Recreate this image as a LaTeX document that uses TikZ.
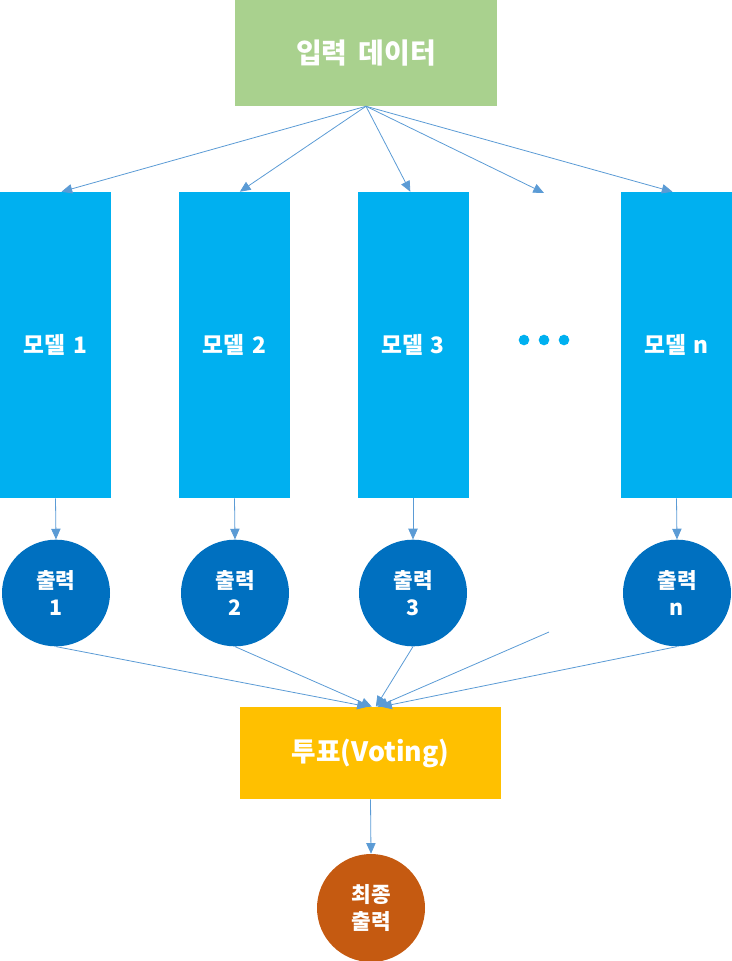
\documentclass[tikz,border=0pt]{standalone}
\usepackage{fontspec}
\setmainfont{Noto Sans CJK KR}
\usepackage{tikz}
\usetikzlibrary{arrows.meta,shapes.geometric}
\definecolor{ingreen}{RGB}{169, 209, 142}
\definecolor{modelblue}{RGB}{0, 176, 240}
\definecolor{outblue}{RGB}{0, 112, 192}
\definecolor{voteyellow}{RGB}{255, 192, 0}
\definecolor{finalorange}{RGB}{197, 90, 17}
\definecolor{linkblue}{RGB}{91, 155, 213}
\tikzset{
  inbox/.style={rectangle, fill=ingreen, minimum width=196.5pt, minimum height=79.5pt, text=white, font=\bfseries\fontsize{21}{25}\selectfont},
  modelbox/.style={rectangle, fill=modelblue, minimum width=83.25pt, minimum height=229.5pt, text=white, font=\bfseries\fontsize{17}{20}\selectfont},
  outcirc/.style={ellipse, fill=outblue, minimum width=81pt, minimum height=80pt, inner sep=0pt, text=white, align=center, font=\bfseries\fontsize{16}{20}\selectfont},
  votebox/.style={rectangle, fill=voteyellow, minimum width=195.75pt, minimum height=69pt, text=white, font=\bfseries\fontsize{20}{24}\selectfont},
  finalcirc/.style={circle, fill=finalorange, minimum size=81pt, inner sep=0pt, text=white, align=center, font=\bfseries\fontsize{16}{20}\selectfont},
  dotmark/.style={circle, fill=modelblue, minimum size=8pt, inner sep=0pt},
  link/.style={draw=linkblue, line width=0.6pt, -{Triangle[width=7pt, length=8pt]}}
}
\begin{document}
\begin{tikzpicture}[x=0.75pt, y=-0.75pt]
  \useasboundingbox (0,0) rectangle (732,961);
  % input
  \node[inbox] (input) at (366,53) {입력\hspace{0.4em}데이터};
  % models
  \node[modelbox] (m1) at (55.5,345) {모델\hspace{0.35em}1};
  \node[modelbox] (m2) at (234.5,345) {모델\hspace{0.35em}2};
  \node[modelbox] (m3) at (413,345) {모델\hspace{0.35em}3};
  \node[modelbox] (mn) at (676.5,345) {모델\hspace{0.35em}n};
  \foreach \i/\x in {1/524, 2/544, 3/564}
    \node[dotmark] (dot\i) at (\x,340) {};
  \coordinate (dotstop) at (544,193);
  % outputs
  \node[outcirc] (o1) at (56,593) {출력\\1};
  \node[outcirc] (o2) at (235,593) {출력\\2};
  \node[outcirc] (o3) at (413,593) {출력\\3};
  \node[outcirc] (on) at (677,593) {출력\\n};
  \coordinate (freeend) at (549,632);
  % voting and final
  \node[votebox] (vote) at (370.5,753) {투표(Voting)};
  \node[finalcirc] (final) at (371,908) {최종\\출력};

  \draw[link] (input.south) -- ([xshift=4.5pt]m1.north);
  \draw[link] (input.south) -- ([xshift=4pt]m2.north);
  \draw[link] (input.south) -- ([xshift=-2pt]m3.north);
  \draw[link] (input.south) -- (dotstop);
  \draw[link] (input.south) -- ([xshift=-3pt]mn.north);
  \foreach \a/\b in {m1/o1, m2/o2, m3/o3, mn/on}
    \draw[link] (\a.south) -- (\b.north);
  \draw[link] (o1.south) -- ([xshift=-2pt]vote.north);
  \draw[link] (o2.south) -- ([xshift=1pt]vote.north);
  \draw[link] (o3.south) -- ([xshift=4pt]vote.north);
  \draw[link] (freeend) -- ([xshift=5pt]vote.north);
  \draw[link] (on.south) -- ([xshift=8pt]vote.north);
  \draw[link] (vote.south) -- (final.north);
\end{tikzpicture}
\end{document}
